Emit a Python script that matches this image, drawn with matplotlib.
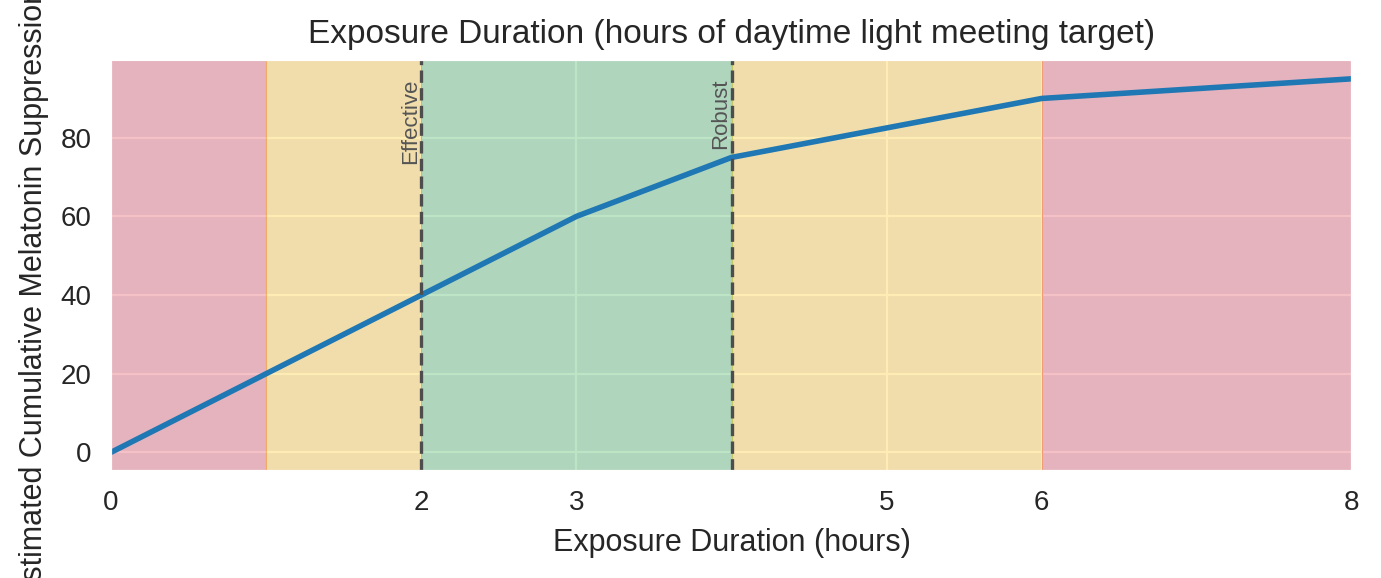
import matplotlib
matplotlib.use("Agg")
import matplotlib.pyplot as plt
import seaborn as sns

# 노출 시간 (시간) / 누적 멜라토닌 억제 (%)
hours = [0, 1, 2, 3, 4, 5, 6, 8]
suppression = [0, 20, 40, 60, 75, 82.5, 90, 95]
tick_hours = [0, 2, 3, 5, 6, 8]

# 구간: (시작, 끝, 색)
zones = [(0, 1, '#dc3545'), (1, 2, '#ffc107'), (2, 4, '#28a745'),
         (4, 6, '#ffc107'), (6, 8, '#dc3545')]
markers = [(2, 'Effective'), (4, 'Robust')]

sns.set_style('darkgrid')
plt.rcParams['font.family'] = ['Liberation Sans', 'DejaVu Sans']

fig, ax = plt.subplots(figsize=(13.81 / 2, 5.78 / 2), dpi=200)
fig.subplots_adjust(left=0.0804, right=0.979, top=0.896, bottom=0.1851)

for start, end, c in zones:
    ax.axvspan(start, end, color=c, alpha=0.3, linewidth=0.4)

ax.plot(hours, suppression, color='#1f77b4', linewidth=2)

for x, label in markers:
    ax.axvline(x, color='#4d4d4d', linestyle='--', linewidth=1.2)
    ax.text(x, 95, label, rotation=90, ha='right', va='top',
            fontsize=8, color='#555555')

ax.set_xlim(0, 8)
ax.set_xticks(tick_hours)
ax.set_xlabel('Exposure Duration (hours)', fontsize=11)
ax.set_ylabel('Estimated Cumulative Melatonin Suppression (%)', fontsize=11)
ax.set_title('Exposure Duration (hours of daytime light meeting target)', fontsize=12)

fig.savefig('out.png', dpi=200)
